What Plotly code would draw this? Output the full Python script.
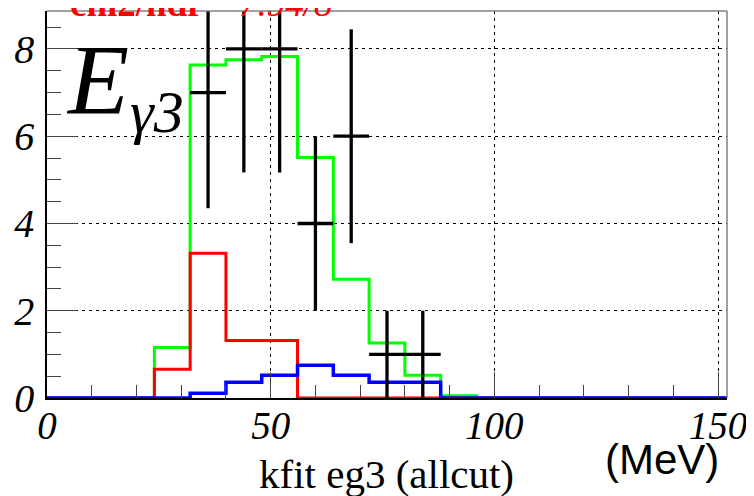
import plotly.graph_objects as go

# ---- data ----
bin_width = 8
bin_edges = [i * 8 for i in range(20)]  # 0 .. 152
green_vals = [0, 0, 0, 1.16, 7.63, 7.75, 7.83, 5.51, 2.72, 1.26, 0.52, 0.05, 0, 0, 0, 0, 0, 0, 0]
red_vals   = [0, 0, 0, 0.66, 3.32, 1.32, 1.32, 0, 0, 0, 0, 0, 0, 0, 0, 0, 0, 0, 0]
blue_vals  = [0, 0, 0, 0, 0.11, 0.36, 0.52, 0.75, 0.52, 0.36, 0.36, 0, 0, 0, 0, 0, 0, 0, 0]
data_x   = [36, 44, 52, 60, 68, 76, 84]
data_y   = [7, 8, 8, 4, 6, 1, 1]
data_err = [2.65, 2.83, 2.83, 2.0, 2.45, 1.0, 1.0]
x_ticks = [0, 50, 100, 150]
y_ticks = [0, 2, 4, 6, 8]

OFF = 8  # page body margin
W, H = 746, 488
L, T = 39, 3
R = W - (727 - OFF)
B = H - (398.3 - OFF)
pw, ph = W - L - R, H - T - B

def sx(x):  # screen px -> paper
    return (x - OFF - L) / pw

def sy(y):
    return (H - B - (y - OFF)) / ph

def step(vals):
    xs = list(bin_edges)
    ys = list(vals) + [vals[-1]]
    return xs, ys

fig = go.Figure()
for vals, col, w in [(green_vals, "#00ff00", 3), (red_vals, "#ff0000", 3), (blue_vals, "#0000ff", 3.5)]:
    xs, ys = step(vals)
    fig.add_trace(go.Scatter(x=xs, y=ys, mode="lines", line=dict(color=col, width=w, shape="hv"),
                             hoverinfo="skip", showlegend=False))

fig.add_trace(go.Scatter(
    x=data_x, y=data_y, mode="markers", marker=dict(size=1, color="black"),
    error_y=dict(type="data", array=data_err, color="black", thickness=3.3, width=0),
    error_x=dict(type="constant", value=bin_width / 2, color="black", thickness=3.3, width=0),
    showlegend=False))

serif = "Liberation Serif"
fig.update_layout(
    width=W, height=H, margin=dict(l=L, r=R, t=T, b=B, autoexpand=False),
    paper_bgcolor="white", plot_bgcolor="white",
    xaxis=dict(range=[0, 152], tickvals=x_ticks, ticks="inside", ticklen=26, tickcolor="#444", tickwidth=1,
               showline=True, linecolor="black", linewidth=1.5, mirror=False,
               showgrid=True, gridcolor="black", gridwidth=1, griddash="3px,4px", zeroline=False,
               tickfont=dict(family=serif, size=39, color="black", style="italic"),
               ticklabelstandoff=-8, ticklabeloverflow="allow",
               minor=dict(dtick=10, ticks="inside", ticklen=13, tickcolor="#444", showgrid=False)),
    yaxis=dict(range=[0, 8.87], tickvals=y_ticks, ticks="inside", ticklen=30, tickcolor="#444", tickwidth=1,
               showline=True, linecolor="black", linewidth=1.5, mirror=False,
               showgrid=True, gridcolor="black", gridwidth=1, griddash="3px,4px", zeroline=False,
               tickfont=dict(family=serif, size=40, color="black", style="italic"),
               ticklabelstandoff=3,
               minor=dict(dtick=0.5, ticks="inside", ticklen=14, tickcolor="#444", showgrid=False)),
)

# gray top/right frame
fig.add_shape(type="line", xref="paper", yref="paper", x0=0, x1=1, y0=1, y1=1, line=dict(color="#808080", width=1.5))
fig.add_shape(type="line", xref="paper", yref="paper", x0=1, x1=1, y0=0, y1=1, line=dict(color="#808080", width=1.5))

ann = []
# cropped red title
ann.append(dict(text="<b>chi2/ndf</b> = <i>7.94/8</i>", x=sx(68), y=sy(26), xanchor="left", yanchor="bottom",
                font=dict(family=serif, size=37, color="red")))
# E_gamma3
ann.append(dict(text="E", x=sx(64), y=sy(80), xanchor="left", yanchor="middle",
                font=dict(family=serif, size=100, color="black", style="italic")))
ann.append(dict(text="γ3", x=sx(128), y=sy(112), xanchor="left", yanchor="middle",
                font=dict(family=serif, size=60, color="black", style="italic")))
# units
ann.append(dict(text="(MeV)", x=sx(721), y=sy(460), xanchor="right", yanchor="middle",
                font=dict(family="Liberation Sans", size=42, color="black")))
# axis title
ann.append(dict(text="kfit eg3 (allcut)", x=sx(386), y=sy(474), xanchor="center", yanchor="middle",
                font=dict(family=serif, size=41, color="black")))
for a in ann:
    a.update(xref="paper", yref="paper", showarrow=False)
fig.update_layout(annotations=ann)

fig.write_html("out.html")
